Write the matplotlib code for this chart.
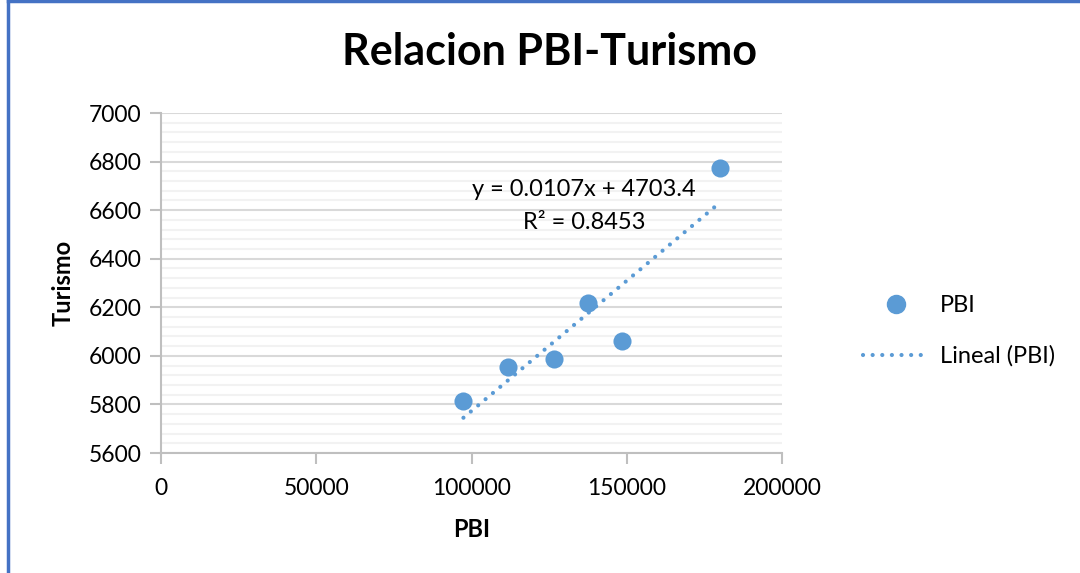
import numpy as np
import matplotlib
matplotlib.use("Agg")
import matplotlib.pyplot as plt
from matplotlib.lines import Line2D
from matplotlib.ticker import MultipleLocator

plt.rcParams['font.family'] = ['Lato', 'DejaVu Sans']

# Data
pbi = [97400, 111900, 126700, 137400, 148600, 180000]
turismo = [5815, 5955, 5986, 6216, 6061, 6772]
x_ticks = [0, 50000, 100000, 150000, 200000]
y_ticks = [5600, 5800, 6000, 6200, 6400, 6600, 6800, 7000]
title = "Relacion PBI-Turismo"
equation = "y = 0.0107x + 4703.4"
r2_text = "R² = 0.8453"

blue = "#5B9BD5"
dot_style = (0, (0.01, 2.3))

fig = plt.figure(figsize=(10.8, 5.73), dpi=100)
ax = fig.add_axes([161/1080, 1-453/573, (782-161)/1080, (453-113)/573])

ax.scatter(pbi, turismo, s=170, color=blue, zorder=3, linewidths=0)

slope, intercept = np.polyfit(pbi, turismo, 1)
xs = np.array([min(pbi), max(pbi)])
ax.plot(xs, slope*xs + intercept, linestyle=dot_style, color=blue, lw=3,
        dash_capstyle='round', zorder=2)

ax.set_xlim(0, 200000)
ax.set_ylim(5600, 7000)
ax.set_xticks(x_ticks)
ax.set_yticks(y_ticks)
ax.yaxis.set_minor_locator(MultipleLocator(40))
ax.grid(which='major', axis='y', color='#D9D9D9', lw=1.5)
ax.grid(which='minor', axis='y', color='#F2F2F2', lw=1.5)
ax.set_axisbelow(True)
for s in ['top', 'right']:
    ax.spines[s].set_visible(False)
for s in ['left', 'bottom']:
    ax.spines[s].set_color('#BFBFBF')
    ax.spines[s].set_linewidth(1.5)
ax.tick_params(which='major', length=8, width=1.5, color='#BFBFBF',
               labelsize=16.5, pad=6)
ax.tick_params(which='minor', length=0)
ax.tick_params(axis='x', pad=10)

ax.set_xlabel("PBI", fontsize=17, fontweight='bold', labelpad=14)
ax.set_ylabel("Turismo", fontsize=17, fontweight='bold', labelpad=10)

fig.text(549/1080, 1-52/573, title, fontsize=31, fontweight='bold',
         ha='center', va='center')
fig.text(584/1080, 1-190/573, equation, fontsize=17, ha='center', va='center')
fig.text(584/1080, 1-222/573, r2_text, fontsize=17, ha='center', va='center')

handles = [Line2D([], [], marker='o', color=blue, linestyle='none', markersize=13),
           Line2D([], [], color=blue, linestyle=dot_style, lw=3,
                  dash_capstyle='round')]
fig.legend(handles, ["PBI", "Lineal (PBI)"], loc='center left',
           bbox_to_anchor=(842/1080, 1-331/573), frameon=False, fontsize=17,
           handlelength=2.8, labelspacing=1.25, handletextpad=0.45)

# chart border
fig.add_artist(Line2D([8/1080, 8/1080], [0, 1], color='#4472C4', lw=2.5,
                      transform=fig.transFigure))
fig.add_artist(Line2D([8/1080, 1], [1-1/573, 1-1/573], color='#4472C4', lw=2.5,
                      transform=fig.transFigure))

fig.savefig("out.png", dpi=100)
